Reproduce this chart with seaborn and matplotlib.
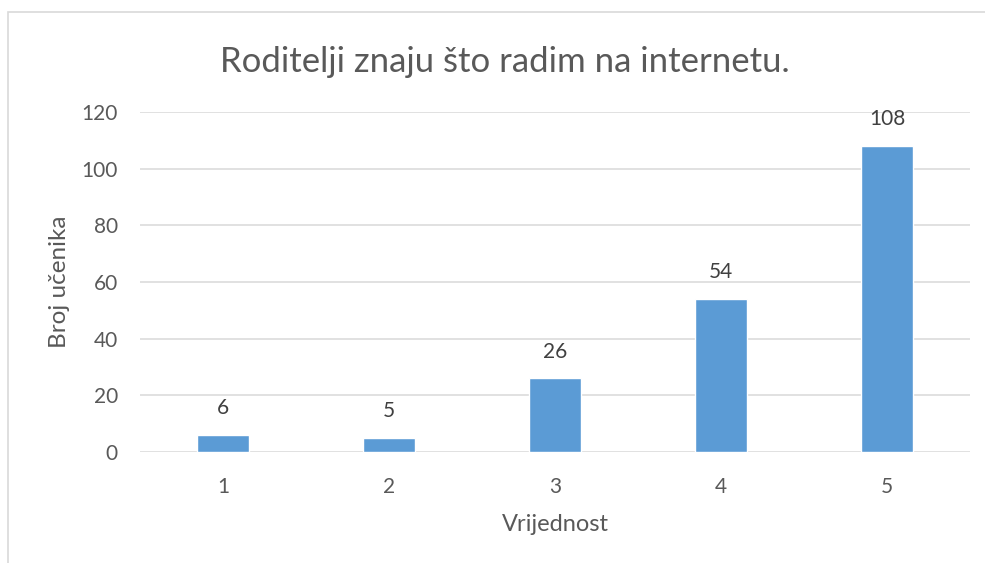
import pandas as pd
import seaborn as sns
import matplotlib.pyplot as plt
from matplotlib.patches import Rectangle

# Chart data
vrijednosti = ['1', '2', '3', '4', '5']
broj_ucenika = [6, 5, 26, 54, 108]
y_ticks = [0, 20, 40, 60, 80, 100, 120]

df = pd.DataFrame({'Vrijednost': vrijednosti, 'Broj učenika': broj_ucenika})

sns.set_theme(style='white')
plt.rcParams['font.family'] = ['Lato', 'DejaVu Sans']
text_color = '#595959'

fig = plt.figure(figsize=(9.85, 5.63), dpi=100)
ax = fig.add_axes([140 / 985, 1 - 452 / 563, 830 / 985, 340 / 563])

sns.barplot(data=df, x='Vrijednost', y='Broj učenika', color='#5B9BD5',
            width=0.31, saturation=1, ax=ax, zorder=3)

# Value labels above bars
ax.bar_label(ax.containers[0], padding=12, fontsize=15, color='#404040')

ax.set_ylim(0, 120)
ax.set_yticks(y_ticks)
ax.set_xlim(-0.5, 4.5)
ax.yaxis.grid(True, color='#D9D9D9', linewidth=1.1, zorder=0)
ax.set_axisbelow(True)
for s in ax.spines.values():
    s.set_visible(False)
ax.tick_params(axis='both', length=0, labelsize=15, labelcolor=text_color)
ax.tick_params(axis='y', pad=16)
ax.tick_params(axis='x', pad=18)

ax.set_xlabel('Vrijednost', fontsize=17, color=text_color, labelpad=12)
ax.set_ylabel('Broj učenika', fontsize=17.5, color=text_color, labelpad=8)
fig.text(505 / 985, 1 - 62 / 563, 'Roditelji znaju što radim na internetu.',
         ha='center', va='center', fontsize=25, color=text_color)

# Chart border
fig.patches.append(Rectangle((8 / 985, -0.1), 1.2, 1.1 - 12 / 563,
                             transform=fig.transFigure, fill=False,
                             edgecolor='#D9D9D9', linewidth=1.2))

fig.savefig('out.png', dpi=100)
